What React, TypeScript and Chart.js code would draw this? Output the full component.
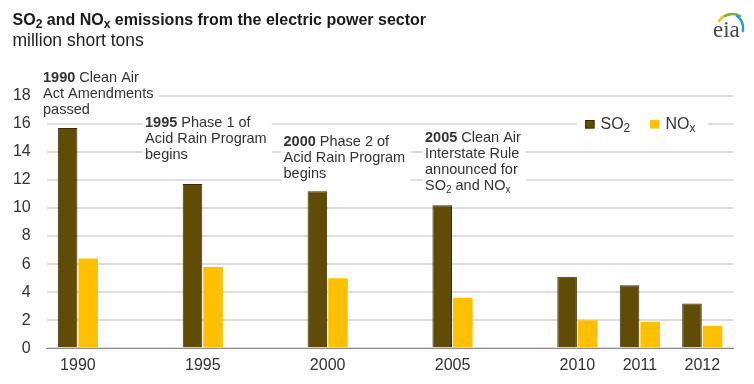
import { useEffect, useRef } from 'react';
import { Chart, registerables } from 'chart.js';

Chart.register(...registerables);

// ---------- data ----------
const categories = ['1990', '', '1995', '', '2000', '', '2005', '', '2010', '2011', '2012'];
const so2Values = [15.7, null, 11.7, null, 11.2, null, 10.2, null, 5.1, 4.5, 3.2];
const noxValues = [6.4, null, 5.8, null, 5.0, null, 3.6, null, 2.0, 1.9, 1.6];
const yTickStep = 2;
const yMax = 18;

const noteYears = ['1990', '1995', '2000', '2005'];
const noteLines = [
  ['Clean Air', 'Act Amendments', 'passed'],
  ['Phase 1 of', 'Acid Rain Program', 'begins'],
  ['Phase 2 of', 'Acid Rain Program', 'begins'],
  ['Clean Air', 'Interstate Rule', 'announced for', 'SO_2 and NO_x'],
];
const legendLabels = ['SO_2', 'NO_x'];

// ---------- styles ----------
const FONT = '"Liberation Sans", Arial, sans-serif';
const SO2_COLOR = '#614c06';
const SO2_BORDER = '#3c2d04';
const NOX_COLOR = '#ffc000';
const TEXT = '#333333';
const noteAnchors = [
  { x: 43, y: 81.7 },
  { x: 145, y: 126.7 },
  { x: 283.5, y: 145.7 },
  { x: 425, y: 141.7 },
];

type Seg = { t: string; b?: boolean; sub?: boolean };

function parseMarkup(s: string, bold?: string): Seg[] {
  const segs: Seg[] = [];
  if (bold) segs.push({ t: bold + ' ', b: true });
  const parts = s.split(/_(.)/);
  parts.forEach((p, i) => {
    if (!p) return;
    segs.push(i % 2 === 1 ? { t: p, sub: true } : { t: p });
  });
  return segs;
}

function segFont(seg: Seg, size: number) {
  const sz = seg.sub ? Math.round(size * 0.72) : size;
  return `${seg.b ? 'bold ' : ''}${sz}px ${FONT}`;
}

function measureRich(ctx: CanvasRenderingContext2D, segs: Seg[], size: number) {
  let w = 0;
  segs.forEach((s) => {
    ctx.font = segFont(s, size);
    w += ctx.measureText(s.t).width;
  });
  return w;
}

function drawRich(ctx: CanvasRenderingContext2D, segs: Seg[], x: number, y: number, size: number) {
  let cx = x;
  segs.forEach((s) => {
    ctx.font = segFont(s, size);
    ctx.fillText(s.t, cx, s.sub ? y + size * 0.22 : y);
    cx += ctx.measureText(s.t).width;
  });
  return cx;
}

const overlayPlugin = {
  id: 'overlay',
  beforeDatasetsDraw(chart: any) {
    const ctx: CanvasRenderingContext2D = chart.ctx;
    ctx.save();
    ctx.textBaseline = 'alphabetic';
    ctx.textAlign = 'left';
    const size = 14.5;
    const lh = 16;
    noteLines.forEach((lines, i) => {
      const a = noteAnchors[i];
      const rich = lines.map((l, j) => parseMarkup(l, j === 0 ? noteYears[i] : undefined));
      let w = 0;
      rich.forEach((r) => (w = Math.max(w, measureRich(ctx, r, size))));
      ctx.fillStyle = '#ffffff';
      ctx.fillRect(a.x - 2, a.y - 14, w + 7, (lines.length - 1) * lh + 19);
      ctx.fillStyle = TEXT;
      rich.forEach((r, j) => drawRich(ctx, r, a.x, a.y + j * lh, size));
    });

    // legend
    ctx.fillStyle = '#ffffff';
    ctx.fillRect(577, 113, 131, 22);
    const colors = [SO2_COLOR, NOX_COLOR];
    const lx = [585, 650];
    legendLabels.forEach((lab, i) => {
      ctx.fillStyle = colors[i];
      ctx.fillRect(lx[i], 120, 9.5, 8.5);
      if (i === 0) {
        ctx.strokeStyle = SO2_BORDER;
        ctx.lineWidth = 1;
        ctx.strokeRect(lx[i] + 0.5, 120.5, 8.5, 7.5);
      }
      ctx.fillStyle = TEXT;
      drawRich(ctx, parseMarkup(lab), lx[i] + 15.5, 128.5, 16);
    });
    ctx.restore();
  },
  afterDraw(chart: any) {
    const ctx: CanvasRenderingContext2D = chart.ctx;
    ctx.save();
    // eia logo
    ctx.font = `23px "Liberation Serif", "DejaVu Serif", serif`;
    ctx.fillStyle = '#4a4a4a';
    ctx.textBaseline = 'alphabetic';
    ctx.fillText('eia', 713, 37);
    ctx.lineCap = 'round';
    ctx.lineWidth = 2.5;
    ctx.strokeStyle = '#f3c316';
    ctx.beginPath();
    ctx.moveTo(719, 21);
    ctx.quadraticCurveTo(723, 15, 730, 14);
    ctx.stroke();
    ctx.strokeStyle = '#72b443';
    ctx.beginPath();
    ctx.moveTo(725, 16);
    ctx.quadraticCurveTo(733, 12, 740, 16);
    ctx.stroke();
    ctx.strokeStyle = '#2a9ad6';
    ctx.beginPath();
    ctx.moveTo(737, 16);
    ctx.quadraticCurveTo(744, 21, 743, 31);
    ctx.stroke();
    ctx.restore();
  },
};

export default function App() {
  const ref = useRef<HTMLCanvasElement | null>(null);

  useEffect(() => {
    const prevMargin = document.body.style.margin;
    document.body.style.margin = '0';
    if (!ref.current) return;
    const chart = new Chart(ref.current, {
      type: 'bar',
      data: {
        labels: categories,
        datasets: [
          {
            label: 'SO2',
            data: so2Values as any,
            backgroundColor: SO2_COLOR,
            borderColor: SO2_BORDER,
            borderWidth: 1,
            categoryPercentage: 0.66,
            barPercentage: 0.95,
          },
          {
            label: 'NOx',
            data: noxValues as any,
            backgroundColor: NOX_COLOR,
            borderWidth: 0,
            categoryPercentage: 0.66,
            barPercentage: 0.95,
          },
        ],
      },
      options: {
        responsive: false,
        animation: false,
        events: [],
        layout: { padding: { top: 95.7, right: 20.5, left: 0, bottom: 0 } },
        plugins: {
          legend: { display: false },
          tooltip: { enabled: false },
          title: { display: false },
        },
        scales: {
          x: {
            grid: { display: false },
            border: { display: true, color: '#8a8a8a', width: 1 },
            ticks: {
              color: TEXT,
              font: { family: FONT, size: 16 },
              padding: 0,
              maxRotation: 0,
              autoSkip: false,
            },
            afterFit: (s: any) => {
              s.height = 35.7;
            },
          },
          y: {
            min: 0,
            max: yMax,
            grid: { color: '#dedede', lineWidth: 2, drawTicks: false },
            border: { display: false },
            ticks: {
              stepSize: yTickStep,
              color: TEXT,
              font: { family: FONT, size: 16 },
              padding: 16,
            },
            afterFit: (s: any) => {
              s.width = 46.7;
            },
          },
        },
      },
      plugins: [overlayPlugin],
    });
    return () => {
      chart.destroy();
      document.body.style.margin = prevMargin;
    };
  }, []);

  return (
    <div style={{ position: 'absolute', left: 0, top: 0, width: 754, height: 384, background: '#fff' }}>
      <canvas ref={ref} width={754} height={384} style={{ position: 'absolute', left: 0, top: 0 }} />
      <div
        style={{
          position: 'absolute',
          left: 12.5,
          top: 11,
          font: `bold 16px ${FONT}`,
          lineHeight: '18px',
          color: '#1a1a1a',
          whiteSpace: 'nowrap',
        }}
      >
        SO<sub style={{ fontSize: 12, verticalAlign: '-3px', lineHeight: 0 }}>2</sub> and NO
        <sub style={{ fontSize: 12, verticalAlign: '-3px', lineHeight: 0 }}>x</sub> emissions from the electric power sector
      </div>
      <div
        style={{
          position: 'absolute',
          left: 12.5,
          top: 30,
          font: `17.5px ${FONT}`,
          lineHeight: '20px',
          color: '#222',
          whiteSpace: 'nowrap',
        }}
      >
        million short tons
      </div>
    </div>
  );
}
